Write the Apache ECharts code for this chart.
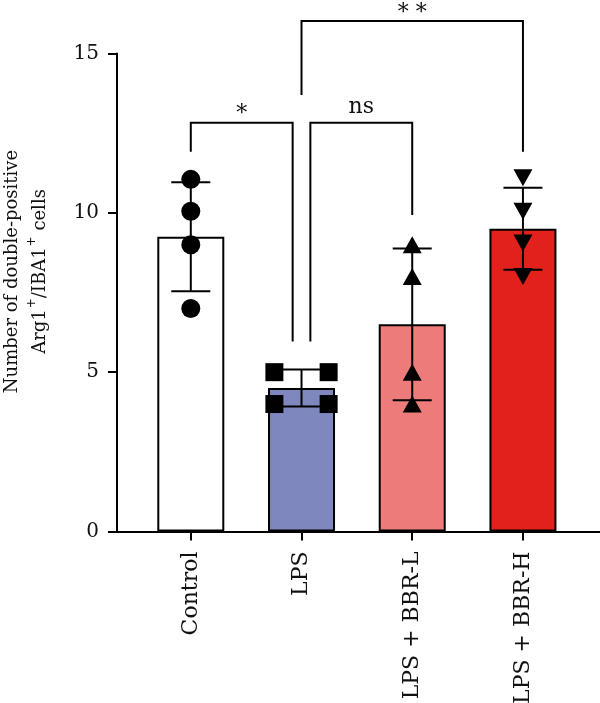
<!DOCTYPE html>
<html>
<head>
<meta charset="utf-8">
<script src="https://cdn.jsdelivr.net/npm/echarts@6/dist/echarts.min.js"></script>
<style>
  html, body { margin: 0; padding: 0; background: #fff; }
  #chart { width: 600px; height: 703px; }
</style>
</head>
<body>
<div id="chart"></div>
<script>
// groups and values
const categories = ['Control', 'LPS', 'LPS + BBR-L', 'LPS + BBR-H']
const means = [9.25, 4.5, 6.5, 9.5]
const sds = [1.71, 0.58, 2.38, 1.29]
const controlPts = [11.05, 10.05, 9.0, 7.0]
const lpsPts = [5.0, 5.0, 4.0, 4.0]
const bbrLPts = [9.0, 8.0, 5.0, 4.0]
const bbrHPts = [11.1, 10.05, 9.05, 8.0]
const yTicks = [0, 5, 10, 15]

// significance brackets (x in group index, y in data units)
const sigLabels = ['*', 'ns', '* *']
const sigX1 = [0, 1.08, 1]
const sigX2 = [0.92, 2, 3]
const sigLeg1 = [11.92, 5.96, 13.7]
const sigLeg2 = [5.96, 9.93, 11.92]
const sigTop = [12.83, 12.83, 16.02]

const FONT = 'DejaVu Serif'
const INK = '#111'
const barColors = ['#ffffff', '#7f87bf', '#ec7b7a', '#e2211c']
const lpsJitter = [-0.245, 0.245, -0.245, 0.245]

const chart = echarts.init(document.getElementById('chart'), null, { renderer: 'canvas' })

const errorBars = {
  type: 'custom',
  z: 3,
  data: categories.map((c, i) => [i, means[i] - sds[i], means[i] + sds[i]]),
  renderItem: (params, api) => {
    const x = api.value(0)
    const lo = api.coord([x, api.value(1)])
    const hi = api.coord([x, api.value(2)])
    const half = 19.5
    const style = { stroke: '#000', lineWidth: 2 }
    return {
      type: 'group',
      children: [
        { type: 'line', shape: { x1: lo[0], y1: lo[1], x2: hi[0], y2: hi[1] }, style },
        { type: 'line', shape: { x1: lo[0] - half, y1: lo[1], x2: lo[0] + half, y2: lo[1] }, style },
        { type: 'line', shape: { x1: hi[0] - half, y1: hi[1], x2: hi[0] + half, y2: hi[1] }, style }
      ]
    }
  }
}

const brackets = {
  type: 'custom',
  z: 5,
  clip: false,
  data: sigLabels.map((l, i) => [sigX1[i], sigX2[i], sigLeg1[i], sigLeg2[i], sigTop[i]]),
  renderItem: (params, api) => {
    const i = params.dataIndex
    const a = api.coord([api.value(0), api.value(2)])
    const b = api.coord([api.value(0), api.value(4)])
    const c = api.coord([api.value(1), api.value(4)])
    const d = api.coord([api.value(1), api.value(3)])
    // asterisks sit high in the glyph box, pull them down a little
    const lift = sigLabels[i].includes('*') ? -3 : 4
    return {
      type: 'group',
      children: [
        {
          type: 'polyline',
          shape: { points: [a, b, c, d] },
          style: { stroke: '#000', lineWidth: 2, fill: null }
        },
        {
          type: 'text',
          x: (b[0] + c[0]) / 2,
          y: b[1] - lift,
          style: {
            text: sigLabels[i],
            font: '22px ' + FONT,
            fill: INK,
            align: 'center',
            verticalAlign: 'bottom'
          }
        }
      ]
    }
  }
}

const pointSeries = (pts, idx, symbol, size, rotate, jitter) => ({
  type: 'scatter',
  z: 4,
  symbol,
  symbolSize: size,
  symbolRotate: rotate,
  itemStyle: { color: '#000', opacity: 1 },
  data: pts.map((v, k) => [idx + (jitter ? jitter[k] : 0), v])
})

const option = {
  animation: false,
  grid: { left: 117, right: 0, top: 53.5, bottom: 171.5, outerBoundsMode: 'none', containLabel: false },
  xAxis: {
    type: 'value',
    min: -0.6665,
    max: 3.696,
    splitLine: { show: false },
    axisLine: { onZero: false, lineStyle: { color: '#000', width: 2 } },
    axisTick: { length: 9, customValues: [0, 1, 2, 3], lineStyle: { color: '#000', width: 2 } },
    axisLabel: {
      customValues: [0, 1, 2, 3],
      formatter: v => categories[Math.round(v)],
      rotate: 90,
      margin: 20,
      fontFamily: FONT,
      fontSize: 22,
      color: INK
    }
  },
  yAxis: {
    type: 'value',
    min: 0,
    max: 15,
    interval: 5,
    splitLine: { show: false },
    axisLine: { show: true, onZero: false, lineStyle: { color: '#000', width: 2 } },
    axisTick: { show: true, length: 9, lineStyle: { color: '#000', width: 2 } },
    axisLabel: {
      margin: 18,
      fontFamily: FONT,
      fontSize: 20,
      color: INK,
      formatter: v => yTicks.includes(v) ? String(v) : ''
    },
    name: 'Number of double-positive\n{t|Arg1}{s|+}{t|/IBA1}{s|+}{t| cells}',
    nameLocation: 'middle',
    nameRotate: 90,
    nameGap: 63,
    nameTextStyle: {
      fontFamily: FONT,
      fontSize: 18,
      color: INK,
      lineHeight: 28,
      padding: [0, 0, 0, 42],
      rich: {
        t: { fontFamily: FONT, fontSize: 18, color: INK, lineHeight: 28 },
        s: { fontFamily: FONT, fontSize: 12, color: INK, lineHeight: 22, verticalAlign: 'top', padding: [0, 0, 0, 1] }
      }
    }
  },
  series: [
    {
      type: 'bar',
      z: 2,
      barWidth: 67,
      data: means.map((m, i) => ({
        value: [i, m],
        itemStyle: { color: barColors[i], borderColor: '#000', borderWidth: 2 }
      }))
    },
    errorBars,
    pointSeries(controlPts, 0, 'circle', 19, 0),
    pointSeries(lpsPts, 1, 'rect', 18, 0, lpsJitter),
    pointSeries(bbrLPts, 2, 'triangle', [19, 17], 0),
    pointSeries(bbrHPts, 3, 'triangle', [19, 17], 180),
    brackets
  ]
}

chart.setOption(option)
</script>
</body>
</html>
